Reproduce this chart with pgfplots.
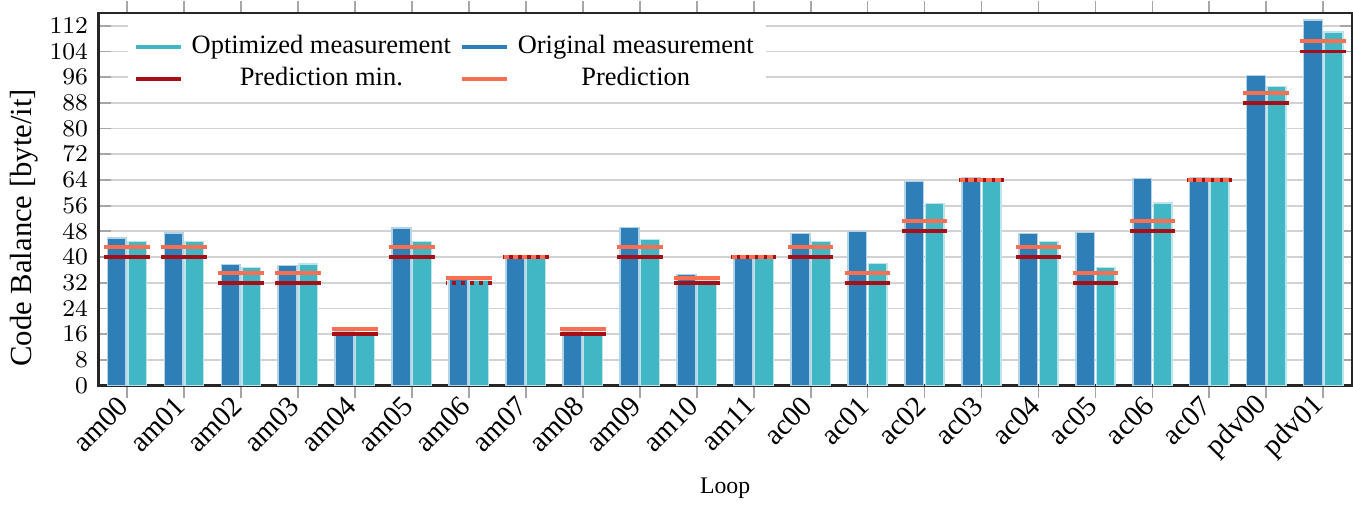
\documentclass[border=0pt]{standalone}
\usepackage{fontspec}
\setmainfont{Liberation Serif}
\usepackage{pgfplots}
\usepackage{pgfplotstable}
\pgfplotsset{compat=1.18}
\definecolor{cOrig}{RGB}{46,127,184}
\definecolor{cOpt}{RGB}{65,182,196}
\definecolor{cPred}{RGB}{252,110,80}
\definecolor{cMin}{RGB}{165,15,21}

\pgfplotstableread{
x orig opt pred
0 45.9 44.9 43.2
1 47.5 44.8 43.2
2 37.7 36.8 35.1
3 37.3 37.9 35.1
4 16.6 16.2 17.6
5 49.1 44.9 43.2
6 34.0 32.7 33.5
7 40.2 40.2 40.0
8 17.0 16.5 17.6
9 49.2 45.4 43.2
10 34.6 32.8 33.5
11 40.2 40.2 40.0
12 47.3 44.8 43.2
13 47.9 38.0 35.1
14 63.5 56.6 51.1
15 64.7 64.5 64.0
16 47.4 44.8 43.2
17 47.6 36.7 35.1
18 64.5 56.8 51.1
19 64.8 64.6 64.0
20 96.5 93.1 91.2
21 113.8 110.0 107.2
}\data

\pgfplotstableread{
x min
0 40
1 40
2 32
3 32
4 16
5 40
8 16
9 40
10 32
12 40
13 32
14 48
16 40
17 32
18 48
20 88
21 104
}\minsolid

\pgfplotstableread{
x min
6 32
7 40
11 40
15 64
19 64
}\mindotted

\begin{document}
\begin{tikzpicture}
\begin{axis}[
  scale only axis,
  width=416.8pt, height=123.9pt,
  xmin=-0.5, xmax=21.5, ymin=0, ymax=116,
  xtick={0,...,21},
  xticklabels={am00,am01,am02,am03,am04,am05,am06,am07,am08,am09,am10,am11,ac00,ac01,ac02,ac03,ac04,ac05,ac06,ac07,pdv00,pdv01},
  xticklabel style={rotate=45, anchor=east, font=\fontsize{9.6}{11}\selectfont, inner sep=1.5pt},
  ytick={0,8,...,112},
  yticklabel style={font=\fontsize{7.8}{9}\selectfont},
  xtick align=outside,
  ytick align=inside,
  major tick length=4pt,
  major tick style={gray!70, line width=0.6pt},
  ymajorgrids,
  grid style={gray!35, line width=0.6pt},
  axis line style={black!85, line width=0.8pt},
  ylabel={Code Balance [byte/it]},
  ylabel style={font=\fontsize{10.2}{12}\selectfont, yshift=-3pt, xshift=-9.5pt},
  xlabel={Loop},
  xlabel style={font=\fontsize{7.9}{9}\selectfont},
  legend columns=2,
  legend cell align=center,
  legend image code/.code={\draw[#1, line width=1.2pt] (0pt,0pt) -- (15pt,0pt);},
  legend style={at={(0.023,0.973)}, anchor=north west, draw=none, fill=white,
    font=\fontsize{8.8}{10}\selectfont, column sep=1pt, inner sep=2pt,
    row sep=-1pt},
]
\addlegendimage{cOpt}
\addlegendentry{Optimized measurement}
\addlegendimage{cOrig}
\addlegendentry{Original measurement}
\addlegendimage{cMin}
\addlegendentry{Prediction min.}
\addlegendimage{cPred}
\addlegendentry{Prediction}

\addplot[ybar, bar width=0.33, bar shift=-0.18, fill=cOrig, draw=cOrig!35!white, line width=0.5pt, forget plot]
  table[x=x, y=orig]{\data};
\addplot[ybar, bar width=0.33, bar shift=0.18, fill=cOpt, draw=cOpt!35!white, line width=0.5pt, forget plot]
  table[x=x, y=opt]{\data};
\addplot[only marks, mark=-, mark size=7.6pt, mark options={line width=1.3pt, cPred}, forget plot]
  table[x=x, y=pred]{\data};
\addplot[only marks, mark=-, mark size=7.6pt, mark options={line width=1.3pt, cMin}, forget plot]
  table[x=x, y=min]{\minsolid};
\addplot[only marks, mark=-, mark size=7.6pt, mark options={line width=1.3pt, cMin, dash pattern=on 1.1pt off 1.9pt}, forget plot]
  table[x=x, y=min]{\mindotted};
\end{axis}
\end{tikzpicture}
\end{document}
